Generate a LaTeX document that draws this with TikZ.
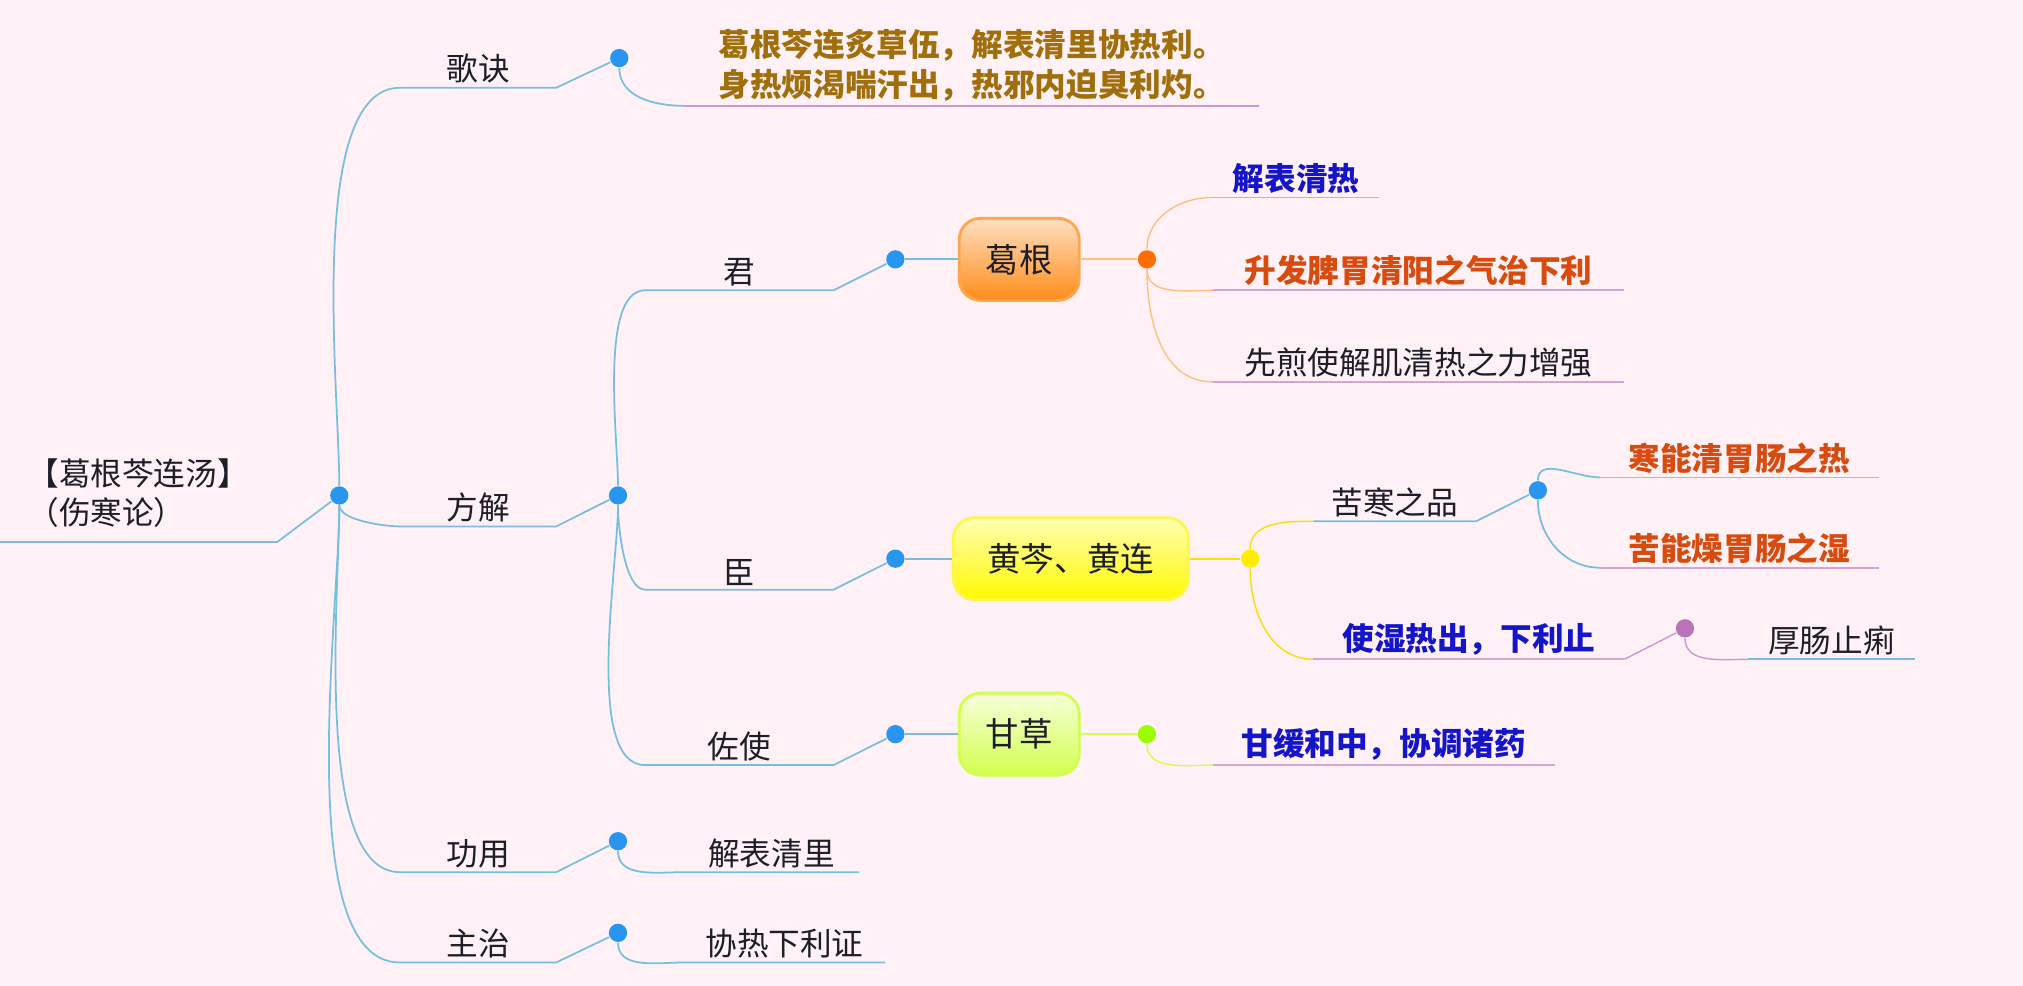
\documentclass[tikz,border=0pt]{standalone}
\usepackage{fontspec}
\setmainfont{Noto Sans CJK SC}
\usetikzlibrary{positioning}
\definecolor{bg}{RGB}{255,241,246}
\definecolor{wire}{RGB}{120,190,225}
\definecolor{dotblue}{RGB}{40,150,240}
\definecolor{gold}{RGB}{160,110,10}
\definecolor{deepblue}{RGB}{20,20,200}
\definecolor{rust}{RGB}{215,75,15}
\definecolor{ink}{RGB}{30,30,40}
\tikzset{
  lab/.style={inner sep=1pt, anchor=south west, font=\fontsize{9}{11}\selectfont, text=ink},
  dot/.style={circle, fill=dotblue, inner sep=0pt, minimum size=5.2pt},
  wire/.style={draw=wire, line width=0.5pt},
  uline/.style={draw=#1, line width=0.5pt},
  herb/.style={rounded corners=6pt, minimum width=1.2cm, minimum height=0.82cm, draw=#1!70!white, line width=0.8pt, font=\fontsize{9.5}{11}\selectfont, text=ink}
}
\begin{document}
\begin{tikzpicture}[x=0.129mm, y=-0.129mm]
\useasboundingbox[fill=bg] (0,0) rectangle (1568,764);

% root
\node (root) [lab, anchor=west, align=left] at (18,382) {【葛根芩连汤】\\（伤寒论）};
\coordinate (r0) at (0,420);
\coordinate (r1) at (215,420);
\node (rd) [dot] at (263,384) {};
\draw [wire] (r0) -- (r1) -- (rd);

% level 1
\node (gj) [lab, minimum width=120*0.129mm] at (310,68) {歌诀};
\node (fj) [lab, minimum width=120*0.129mm] at (310,408) {方解};
\node (gy) [lab, minimum width=120*0.129mm] at (310,676) {功用};
\node (zz) [lab, minimum width=120*0.129mm] at (310,746) {主治};
\node (gjd) [dot] at (480,45) {};
\node (fjd) [dot] at (479,384) {};
\node (gyd) [dot] at (479,652) {};
\node (zzd) [dot] at (479,723) {};
\draw [wire] (rd) to[out=90, in=180, looseness=0.6] (gj.south west);
\foreach \n in {fj,gy,zz}{
  \draw [wire] (rd) to[out=-90, in=180, looseness=0.6] (\n.south west);
}
\foreach \n/\d in {gj/gjd,fj/fjd,gy/gyd,zz/zzd}{
  \draw [wire] (\n.south west) -- (\n.south east) -- (\d);
}

% verse and leaves
\node (song) [lab, align=left, text=gold, font=\fontsize{9}{11.5}\selectfont\bfseries, minimum width=445*0.129mm] at (530,82)
  {葛根芩连炙草伍，解表清里协热利。\\身热烦渴喘汗出，热邪内迫臭利灼。};
\node (gyl) [lab, minimum width=135*0.129mm] at (530,676) {解表清里};
\node (zzl) [lab, minimum width=155*0.129mm] at (530,746) {协热下利证};
\draw [wire] (gjd) to[out=-90, in=180] (song.south west);
\draw [uline=violet!40] (song.south west) -- (song.south east);
\draw [wire] (gyd) to[out=-90, in=180] (gyl.south west) -- (gyl.south east);
\draw [wire] (zzd) to[out=-90, in=180] (zzl.south west) -- (zzl.south east);

% level 2
\node (jun) [lab, minimum width=145*0.129mm] at (500,225) {君};
\node (chen) [lab, minimum width=145*0.129mm] at (500,457) {臣};
\node (zs) [lab, minimum width=145*0.129mm] at (500,593) {佐使};
\draw [wire] (fjd) to[out=90, in=180, looseness=0.6] (jun.south west);
\foreach \n in {chen,zs}{
  \draw [wire] (fjd) to[out=-90, in=180, looseness=0.6] (\n.south west);
}
\node (jund) [dot] at (694,201) {};
\node (chend) [dot] at (694,433) {};
\node (zsd) [dot] at (694,569) {};
\foreach \n/\d in {jun/jund,chen/chend,zs/zsd}{
  \draw [wire] (\n.south west) -- (\n.south east) -- (\d);
}

% herbs
\node (gg) [herb=orange, top color=orange!25, bottom color=orange!90] at (790,201) {葛根};
\node (hq) [herb=yellow, top color=yellow!30, bottom color=yellow!95!orange, minimum width=2.35cm] at (830,433) {黄芩、黄连};
\node (gc) [herb=lime, top color=lime!15, bottom color=lime!70] at (790,569) {甘草};
\draw [wire] (jund) -- (gg);
\draw [wire] (chend) -- (hq);
\draw [wire] (zsd) -- (gc);
\node (ggd) [dot, fill=orange!85!red] at (889,201) {};
\node (hqd) [dot, fill=yellow!95!orange] at (969,433) {};
\node (gcd) [dot, fill=lime!80!green] at (889,569) {};
\draw [draw=orange!50, line width=0.5pt] (gg) -- (ggd);
\draw [draw=yellow!80!orange, line width=0.5pt] (hq) -- (hqd);
\draw [draw=lime!70, line width=0.5pt] (gc) -- (gcd);

% 葛根 leaves
\node (g1) [lab, text=deepblue, font=\fontsize{9}{11}\selectfont\bfseries, minimum width=128*0.129mm] at (940,153) {解表清热};
\node (g2) [lab, text=rust, font=\fontsize{9}{11}\selectfont\bfseries, minimum width=318*0.129mm] at (940,225) {升发脾胃清阳之气治下利};
\node (g3) [lab, minimum width=318*0.129mm] at (940,296) {先煎使解肌清热之力增强};
\draw [draw=orange!50] (ggd) to[out=90, in=180] (g1.south west);
\draw [draw=orange!50] (ggd) to[out=-90, in=180] (g2.south west);
\draw [draw=orange!50] (ggd) to[out=-90, in=180] (g3.south west);
\foreach \n in {g1,g2,g3}{\draw [uline=violet!35] (\n.south west) -- (\n.south east);}

% 黄芩 leaves
\node (h1) [lab, minimum width=125*0.129mm] at (1018,404) {苦寒之品};
\node (h2) [lab, text=deepblue, font=\fontsize{9}{11}\selectfont\bfseries, minimum width=240*0.129mm] at (1018,511) {使湿热出，下利止};
\draw [draw=yellow!80!orange] (hqd) to[out=90, in=180] (h1.south west);
\draw [draw=yellow!80!orange] (hqd) to[out=-90, in=180] (h2.south west);
\node (h1d) [dot] at (1192,380) {};
\node (h2d) [dot, fill=violet!55] at (1306,487) {};
\draw [wire] (h1.south west) -- (h1.south east) -- (h1d);
\draw [draw=violet!40] (h2.south east) -- (h2d);
\draw [uline=violet!35] (h2.south west) -- (h2.south east);
\node (k1) [lab, text=rust, font=\fontsize{9}{11}\selectfont\bfseries, minimum width=215*0.129mm] at (1240,370) {寒能清胃肠之热};
\node (k2) [lab, text=rust, font=\fontsize{9}{11}\selectfont\bfseries, minimum width=215*0.129mm] at (1240,440) {苦能燥胃肠之湿};
\node (k3) [lab, minimum width=128*0.129mm] at (1355,511) {厚肠止痢};
\draw [wire] (h1d) to[out=90, in=180] (k1.south west);
\draw [wire] (h1d) to[out=-90, in=180] (k2.south west);
\draw [draw=violet!40] (h2d) to[out=-90, in=180] (k3.south west);
\foreach \n in {k1,k2}{\draw [uline=violet!35] (\n.south west) -- (\n.south east);}
\draw [wire] (k3.south west) -- (k3.south east);

% 甘草 leaf
\node (c1) [lab, text=deepblue, font=\fontsize{9}{11}\selectfont\bfseries, minimum width=264*0.129mm] at (940,593) {甘缓和中，协调诸药};
\draw [draw=lime!70] (gcd) to[out=-90, in=180] (c1.south west);
\draw [uline=violet!35] (c1.south west) -- (c1.south east);
\end{tikzpicture}
\end{document}
